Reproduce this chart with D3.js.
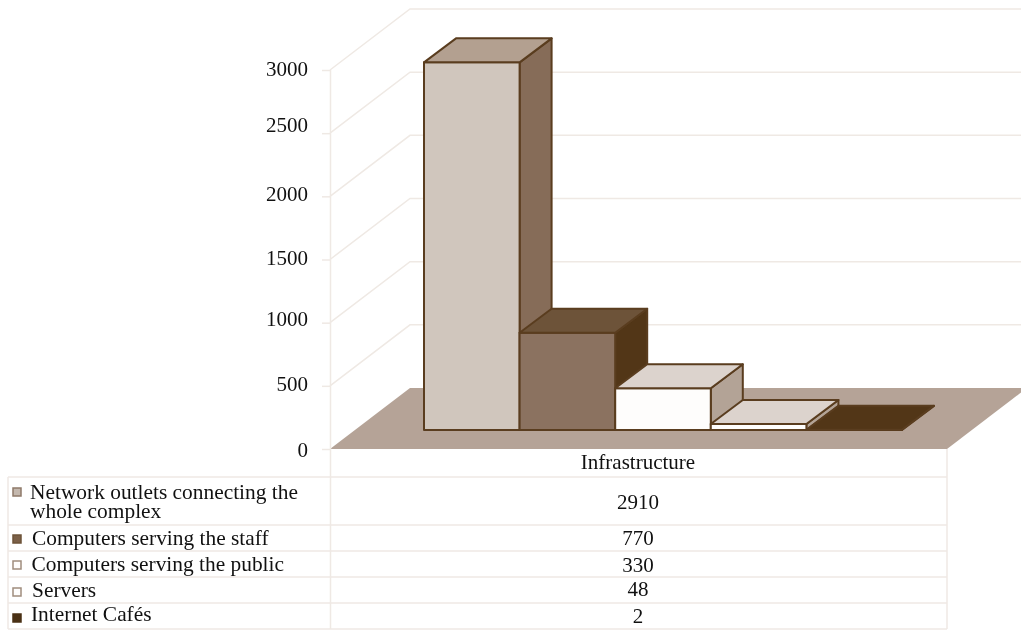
<!DOCTYPE html>
<html><head><meta charset="utf-8">
<script src="https://d3js.org/d3.v7.min.js"></script>
<style>
html,body{margin:0;padding:0;background:#fff}
svg{display:block;filter:blur(0.45px)}
text{font-family:"Liberation Serif","Times New Roman",serif;fill:#111}
</style></head><body>
<svg id="c" width="1021" height="630"></svg>
<script>
const category = "Infrastructure";
const seriesNames = ["Network outlets connecting the|whole complex","Computers serving the staff","Computers serving the public","Servers","Internet Cafés"];
const seriesValues = [2910,770,330,48,2];
const yTicks = [0,500,1000,1500,2000,2500,3000];
const tickLabelNudge = [1,-2,-4,-2,-3,-8,-1];
const frontColors = ["#d0c6bd","#8b7260","#fefdfc","#fefdfc","#6d5339"];
const topColors = ["#b3a090","#6d5339","#dcd3cd","#dcd3cd","#523617"];
const sideColors = ["#866c58","#523617","#b3a396","#b3a396","#3f2812"];
const swatchFill = ["#c4b8ae","#7b6048","#fefdfc","#fefdfc","#4a3115"];
const swatchEdge = ["#8f7a69","#6d5339","#a08d7e","#a08d7e","#4a3115"];
const rowLines = [477,525,551,577,603,629];
const valueBase = [509,545,572,596,623];
const swatchY = [492,539,565,592,618];
const labelX = [30,32,31.5,32,31];
const labelBase = [499,545,571,597,621];

const svg = d3.select("#c");
const GRID="#efe9e4", STROKE="#5a3d1f", FLOOR="#b5a397", FS="21px", LFS="21.4px";
const wallX=330, floorY=449, depthX=80, depthY=-61, rightX=947;
const y = d3.scaleLinear().domain([0,3000]).range([floorY,70]);

// floor
svg.append("path").attr("fill",FLOOR)
  .attr("d",d3.line()([[wallX,floorY],[wallX+depthX,floorY+depthY],[rightX+depthX,floorY+depthY],[rightX,floorY]]));

// walls
const grid = svg.append("g").attr("fill","none").attr("stroke",GRID).attr("stroke-width",1.5);
grid.selectAll("path").data(yTicks.filter(d=>d>0)).join("path")
  .attr("d",d=>d3.line()([[wallX,y(d)],[wallX+depthX,y(d)+depthY],[1021,y(d)+depthY]]));

// y axis
const axis = svg.append("g").attr("transform",`translate(${wallX},0)`)
  .call(d3.axisLeft(y).tickValues(yTicks).tickFormat(d3.format("d")).tickSize(8).tickPadding(14));
axis.selectAll("text").style("font-size",FS).attr("y",(d,i)=>tickLabelNudge[i]);
axis.selectAll("line").attr("stroke",GRID).attr("stroke-width",1.5);
axis.select(".domain").attr("stroke",GRID).attr("stroke-width",1.5).attr("d",`M0.5,${y(3000)}V629`);

// bars
const barBase = 430, barDX = 32, barDY = -24;
const shift = floorY-barBase;
const x = d3.scaleBand().domain(seriesNames).range([424,902]);
const bars = svg.append("g").attr("stroke",STROKE).attr("stroke-width",2).attr("stroke-linejoin","round");
seriesNames.forEach((n,i)=>{
  const x0=x(n), x1=x0+x.bandwidth(), yt=y(seriesValues[i])-shift;
  const g=bars.append("g");
  const P=d3.line();
  g.append("path").attr("fill",sideColors[i]).attr("d",P([[x1,barBase],[x1+barDX,barBase+barDY],[x1+barDX,yt+barDY],[x1,yt]])+"Z");
  g.append("path").attr("fill",frontColors[i]).attr("d",P([[x0,barBase],[x1,barBase],[x1,yt],[x0,yt]])+"Z");
  g.append("path").attr("fill",topColors[i]).attr("d",P([[x0,yt],[x1,yt],[x1+barDX,yt+barDY],[x0+barDX,yt+barDY]])+"Z");
});

// table
const tbl = svg.append("g").attr("stroke",GRID).attr("stroke-width",1.5);
rowLines.forEach(v=>tbl.append("line").attr("x1",8).attr("x2",rightX).attr("y1",v).attr("y2",v));
tbl.append("line").attr("x1",8).attr("x2",8).attr("y1",477).attr("y2",629);
tbl.append("line").attr("x1",rightX).attr("x2",rightX).attr("y1",floorY).attr("y2",629);

const cx=638;
svg.append("text").attr("x",cx).attr("y",469).attr("text-anchor","middle").style("font-size",FS).text(category);
svg.selectAll("text.val").data(seriesValues).join("text").attr("class","val")
  .attr("x",cx).attr("y",(d,i)=>valueBase[i]).attr("text-anchor","middle").style("font-size",FS).text(d=>d);

// legend
seriesNames.forEach((n,i)=>{
  svg.append("rect").attr("x",13).attr("y",swatchY[i]-4).attr("width",8).attr("height",8)
    .attr("fill",swatchFill[i]).attr("stroke",swatchEdge[i]).attr("stroke-width",1.5);
  const t=svg.append("text").style("font-size",LFS);
  n.split("|").forEach((line,k)=>{
    t.append("tspan").attr("x",labelX[i]).attr("y",labelBase[i]+k*19).text(line);
  });
});
</script></body></html>
